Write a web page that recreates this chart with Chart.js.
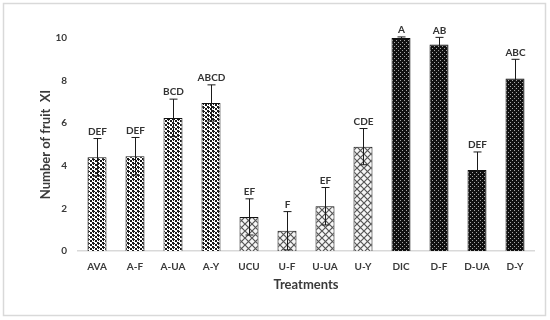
<!DOCTYPE html>
<html>
<head>
<meta charset="utf-8">
<script src="https://cdn.jsdelivr.net/npm/chart.js@4"></script>
<style>
  body { margin: 0; background: #fff; }
  #caja { width: 550px; height: 320px; position: relative; }
</style>
</head>
<body>
<div id="caja"><canvas id="estadistica"></canvas></div>
<script>
const tratamientos = ['AVA', 'A-F', 'A-UA', 'A-Y', 'UCU', 'U-F', 'U-UA', 'U-Y', 'DIC', 'D-F', 'D-UA', 'D-Y']
const promedios = [4.4, 4.45, 6.25, 6.95, 1.6, 0.95, 2.1, 4.9, 10.0, 9.7, 3.8, 8.1]
const errores = [0.88, 0.88, 0.88, 0.85, 0.85, 0.9, 0.88, 0.85, 0.05, 0.33, 0.85, 0.9]
const letras = ['DEF', 'DEF', 'BCD', 'ABCD', 'EF', 'F', 'EF', 'CDE', 'A', 'AB', 'DEF', 'ABC']
const grupos = ['punto', 'punto', 'punto', 'punto', 'rombo', 'rombo', 'rombo', 'rombo', 'oscuro', 'oscuro', 'oscuro', 'oscuro']

const fuente = 'Lato, "Open Sans", sans-serif'

function hacerPatron(tipo){
    let c = document.createElement('canvas')
    let g = c.getContext('2d')
    if (tipo == 'punto') {
        c.width = 5; c.height = 4
        g.fillStyle = '#fff'
        g.fillRect(0, 0, 5, 4)
        g.fillStyle = '#1a1a1a'
        g.fillRect(0, 0, 2, 2)
        g.fillRect(3, 0, 1, 1)
        g.fillRect(2, 2, 2, 2)
        g.fillRect(4, 3, 1, 1)
    } else if (tipo == 'rombo') {
        c.width = 7; c.height = 7
        g.fillStyle = '#f6f6f6'
        g.fillRect(0, 0, 7, 7)
        g.strokeStyle = '#555'
        g.lineWidth = 1.2
        g.beginPath()
        g.moveTo(0, 0); g.lineTo(7, 7)
        g.moveTo(7, 0); g.lineTo(0, 7)
        g.stroke()
    } else {
        c.width = 4; c.height = 4
        g.fillStyle = '#111'
        g.fillRect(0, 0, 4, 4)
        g.fillStyle = '#a8a8a8'
        g.fillRect(0, 0, 1, 1)
        g.fillRect(2, 2, 1, 1)
    }
    return g.createPattern(c, 'repeat')
}

const rellenos = grupos.map(t => hacerPatron(t))

// barras de error y letras encima
const extras = {
    id: 'extras',
    afterDatasetsDraw(chart){
        const ctx = chart.ctx
        const ejeY = chart.scales.y
        const meta = chart.getDatasetMeta(0)
        ctx.save()
        ctx.strokeStyle = '#1a1a1a'
        ctx.lineWidth = 1
        meta.data.forEach((barra, i) => {
            let x = Math.round(barra.x) + 0.5
            let arriba = ejeY.getPixelForValue(promedios[i] + errores[i])
            let abajo = ejeY.getPixelForValue(promedios[i] - errores[i])
            ctx.beginPath()
            ctx.moveTo(x, arriba); ctx.lineTo(x, abajo)
            ctx.moveTo(x - 4, arriba); ctx.lineTo(x + 4, arriba)
            ctx.moveTo(x - 4, abajo); ctx.lineTo(x + 4, abajo)
            ctx.stroke()
            ctx.fillStyle = '#333'
            ctx.font = 'bold 10px ' + fuente
            ctx.textAlign = 'center'
            ctx.textBaseline = 'bottom'
            ctx.fillText(letras[i], x, arriba - 2)
        })
        ctx.restore()
    },
    beforeDraw(chart){
        const ctx = chart.ctx
        ctx.save()
        ctx.fillStyle = '#fff'
        ctx.fillRect(0, 0, chart.width, chart.height)
        ctx.strokeStyle = '#d9d9d9'
        ctx.lineWidth = 1.5
        ctx.strokeRect(3.5, 3.5, 542, 312)
        ctx.restore()
    }
}

const ctx = document.getElementById('estadistica')
let grafico = new Chart(ctx, {
    type: 'bar',
    data: {
        labels: tratamientos,
        datasets: [{
            data: promedios,
            backgroundColor: rellenos,
            borderColor: '#111',
            borderWidth: 1,
            barPercentage: 0.5,
            categoryPercentage: 1
        }]
    },
    options: {
        responsive: true,
        maintainAspectRatio: false,
        animation: false,
        layout: { padding: { left: 38, right: 16, top: 38, bottom: 27 } },
        plugins: { legend: { display: false }, tooltip: { enabled: false } },
        scales: {
            x: {
                grid: { display: false, drawTicks: false },
                border: { display: true, color: '#d9d9d9', width: 1.5 },
                ticks: { color: '#3a3a3a', font: { family: fuente, size: 10, weight: 'bold' }, padding: 10, maxRotation: 0 },
                title: { display: true, text: 'Treatments', color: '#3a3a3a', font: { family: fuente, size: 13, weight: 'bold' }, padding: 0 },
                afterFit(eje){ eje.height = 42 }
            },
            y: {
                min: 0,
                max: 10,
                grid: { display: false, drawTicks: false },
                border: { display: false },
                ticks: { stepSize: 2, color: '#3a3a3a', font: { family: fuente, size: 10, weight: 'bold' }, padding: 11 },
                title: { display: true, text: 'Number of fruit  XI', color: '#3a3a3a', font: { family: fuente, size: 13, weight: 'bold' }, padding: 0 },
                afterFit(eje){ eje.width = 40 }
            }
        }
    },
    plugins: [extras]
})
</script>
</body>
</html>
